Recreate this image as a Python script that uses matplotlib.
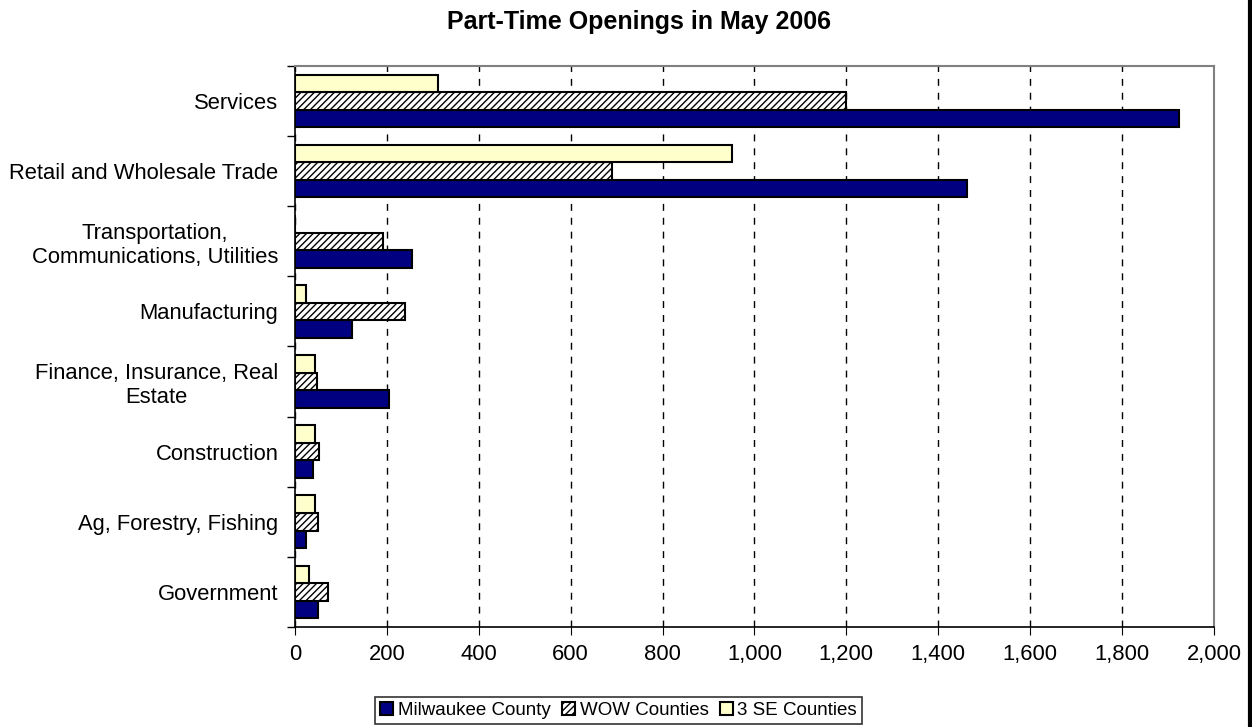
import numpy as np
import matplotlib.pyplot as plt
from matplotlib.lines import Line2D
from matplotlib.ticker import FuncFormatter

plt.rcParams['font.family'] = ['Liberation Sans', 'DejaVu Sans']
plt.rcParams['hatch.color'] = '#808080'
plt.rcParams['hatch.linewidth'] = 1.0

# categories, top to bottom as shown
categories = ['Services', 'Retail and Wholesale Trade',
              'Transportation,\nCommunications, Utilities', 'Manufacturing',
              'Finance, Insurance, Real\nEstate', 'Construction',
              'Ag, Forestry, Fishing', 'Government']
milwaukee = [1924, 1462, 255, 125, 205, 40, 25, 51]
wow = [1200, 689, 192, 240, 49, 53, 51, 72]
se3 = [311, 952, 0, 25, 44, 44, 44, 31]

n = len(categories)
pos = np.arange(n)[::-1]
h = 0.25

fig = plt.figure(figsize=(12.52, 7.27), dpi=100)
ax = fig.add_axes([0.2356, 0.1376, 0.734, 0.7716])

ax.barh(pos - h, milwaukee, height=h, color='#000080', edgecolor='black',
        linewidth=1.5, label='Milwaukee County', zorder=3)
ax.barh(pos, wow, height=h, color='white', edgecolor='black', hatch='/////',
        linewidth=1.5, label='WOW Counties', zorder=3)
ax.barh(pos + h, se3, height=h, color='#FFFFCC', edgecolor='black',
        linewidth=1.5, label='3 SE Counties', zorder=3)

ax.set_xlim(0, 2000)
ax.set_ylim(-0.5, n - 0.5)
ax.set_xticks(np.arange(0, 2001, 200))
ax.xaxis.set_major_formatter(FuncFormatter(lambda v, p: '{:,.0f}'.format(v)))
ax.grid(axis='x', color='black', linestyle=(0, (5, 5)), linewidth=1, zorder=0)

ax.set_yticks(pos)
ax.set_yticklabels(categories, multialignment='center')
ax.set_yticks(np.arange(-0.5, n, 1), minor=True)
ax.tick_params(axis='y', which='major', length=0, pad=12, labelsize=15.8)
ax.tick_params(axis='y', which='minor', length=6, direction='out', width=1)
ax.tick_params(axis='x', length=6, direction='out', pad=6, labelsize=15.8)

for s in ['top', 'right']:
    ax.spines[s].set_color('#808080')
    ax.spines[s].set_linewidth(1.5)
for s in ['left', 'bottom']:
    ax.spines[s].set_color('black')
    ax.spines[s].set_linewidth(1.2)

fig.text(0.51, 0.97, 'Part-Time Openings in May 2006', ha='center', va='center',
         fontsize=18, fontweight='bold')

leg = ax.legend(loc='center', bbox_to_anchor=(0.494, 0.023),
                bbox_transform=fig.transFigure, ncol=3, frameon=True,
                fancybox=False, edgecolor='black', fontsize=13.5,
                handlelength=0.7, handleheight=0.7, handletextpad=0.25,
                columnspacing=0.6, borderpad=0.25, borderaxespad=0)
leg.get_frame().set_linewidth(1.2)

fig.add_artist(Line2D([0.9985, 0.9985], [0, 1], transform=fig.transFigure,
                      color='black', linewidth=3))

fig.savefig('out.png', dpi=100)
plt.close()
